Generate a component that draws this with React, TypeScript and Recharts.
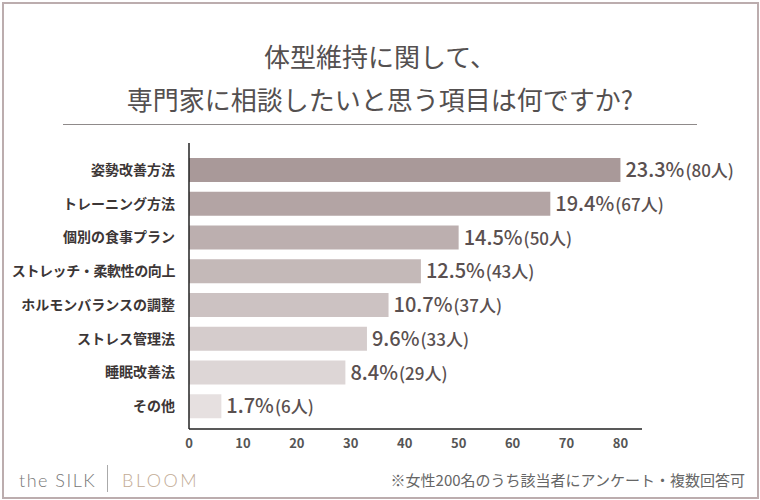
import React from 'react';
import { BarChart, Bar, XAxis, YAxis, Cell, LabelList } from 'recharts';

const CATEGORIES = [
  '姿勢改善方法',
  'トレーニング方法',
  '個別の食事プラン',
  'ストレッチ・柔軟性の向上',
  'ホルモンバランスの調整',
  'ストレス管理法',
  '睡眠改善法',
  'その他',
];
const COUNTS = [80, 67, 50, 43, 37, 33, 29, 6];
const PERCENTS = [23.3, 19.4, 14.5, 12.5, 10.7, 9.6, 8.4, 1.7];
const X_TICKS = [0, 10, 20, 30, 40, 50, 60, 70, 80];
const BAR_COLORS = [
  '#a99999',
  '#b3a4a4',
  '#bcafaf',
  '#c4b9b8',
  '#ccc2c2',
  '#d5cccc',
  '#ddd6d6',
  '#e6e0e0',
];

const data = CATEGORIES.map((name, i) => ({
  name,
  count: COUNTS[i],
  pct: PERCENTS[i],
}));

const FONT = '"Noto Sans CJK JP", "Noto Sans", sans-serif';

const CategoryTick = (props: any) => {
  const { x, y, payload } = props;
  return (
    <text
      x={x - 6}
      y={y}
      dy={5}
      textAnchor="end"
      fontSize={14}
      fontWeight={700}
      fill="#3c3636"
      fontFamily={FONT}
      letterSpacing={payload.value.length > 11 ? -0.4 : 0}
    >
      {payload.value}
    </text>
  );
};

const ValueLabel = (props: any) => {
  const { x, y, width, height, index } = props;
  return (
    <text
      x={x + width + 5}
      y={y + height / 2}
      dy={7}
      fill="#5a5050"
      fontFamily={FONT}
    >
      <tspan fontSize={20} fontWeight={500}>
        {PERCENTS[index].toFixed(1)}%
      </tspan>
      <tspan fontSize={17} fontWeight={500} dx={1}>
        ({COUNTS[index]}人)
      </tspan>
    </text>
  );
};

export default function App() {
  return (
    <div
      style={{
        position: 'fixed',
        left: 0,
        top: 0,
        width: 760,
        height: 500,
        background: '#fff',
        fontFamily: FONT,
      }}
    >
      <div
        style={{
          position: 'absolute',
          left: 2,
          top: 2,
          width: 753,
          height: 493,
          border: '2px solid #bcadae',
        }}
      />
      <div
        style={{
          position: 'absolute',
          left: 0,
          top: 34,
          width: 760,
          textAlign: 'center',
          fontSize: 26,
          lineHeight: '43px',
          color: '#545050',
          fontWeight: 400,
        }}
      >
        体型維持に関して、
        <br />
        専門家に相談したいと思う項目は何ですか?
      </div>
      <div
        style={{
          position: 'absolute',
          left: 63,
          top: 124,
          width: 634,
          height: 1,
          background: '#8f8a8a',
        }}
      />
      <div style={{ position: 'absolute', left: 0, top: 0 }}>
        <BarChart
          width={760}
          height={500}
          data={data}
          layout="vertical"
          margin={{ top: 143, right: 118, bottom: 41, left: 9 }}
        >
          <XAxis
            type="number"
            domain={[0, 84]}
            ticks={X_TICKS}
            tickLine={false}
            axisLine={{ stroke: '#222', strokeWidth: 1.5 }}
            tick={{ fontSize: 13, fontWeight: 700, fill: '#555', fontFamily: FONT }}
            height={30}
            tickMargin={4}
          />
          <YAxis
            type="category"
            dataKey="name"
            width={180}
            tickLine={false}
            axisLine={{ stroke: '#222', strokeWidth: 1.5 }}
            tick={<CategoryTick />}
            padding={{ top: 10, bottom: 6 }}
            interval={0}
          />
          <Bar dataKey="count" barSize={24} isAnimationActive={false}>
            {data.map((d, i) => (
              <Cell key={d.name} fill={BAR_COLORS[i]} />
            ))}
            <LabelList dataKey="count" content={<ValueLabel />} />
          </Bar>
        </BarChart>
      </div>
      <div
        style={{
          position: 'absolute',
          left: 19,
          top: 467,
          fontFamily: 'Lato, sans-serif',
          fontWeight: 300,
          fontSize: 18,
          letterSpacing: 1.5,
          color: '#777',
          lineHeight: '26px',
        }}
      >
        the SILK
      </div>
      <div
        style={{
          position: 'absolute',
          left: 107,
          top: 465,
          width: 1,
          height: 27,
          background: '#aaa',
        }}
      />
      <div
        style={{
          position: 'absolute',
          left: 122,
          top: 467,
          fontFamily: 'Lato, sans-serif',
          fontWeight: 300,
          fontSize: 18,
          letterSpacing: 2.5,
          color: '#c2ab95',
          lineHeight: '26px',
        }}
      >
        BLOOM
      </div>
      <div
        style={{
          position: 'absolute',
          right: 15,
          top: 469,
          fontSize: 15,
          color: '#666',
          lineHeight: '22px',
        }}
      >
        ※女性200名のうち該当者にアンケート・複数回答可
      </div>
    </div>
  );
}
